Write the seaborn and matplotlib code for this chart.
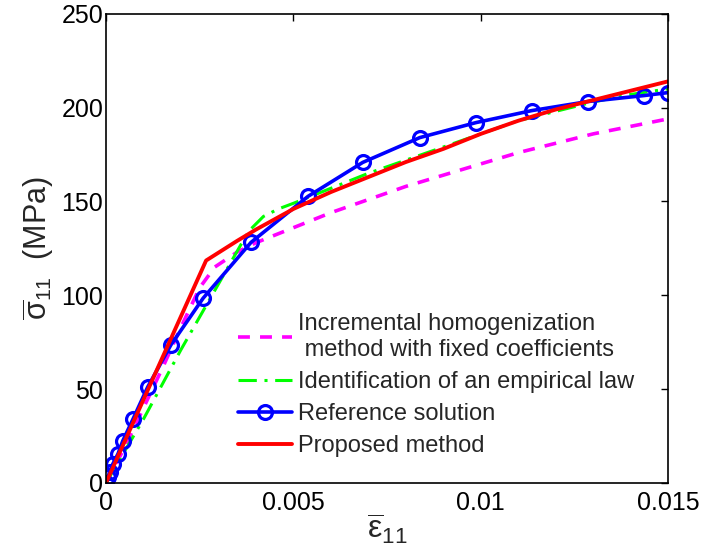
import numpy as np, pandas as pd
import matplotlib
matplotlib.use("Agg")
import matplotlib.pyplot as plt
import seaborn as sns

# ── Data ──────────────────────────────────────────────────────
eps_incr = [0, 0.0005, 0.001, 0.0015, 0.002, 0.0025, 0.0029, 0.0035, 0.004,
            0.005, 0.006, 0.007, 0.008, 0.009, 0.01, 0.011, 0.012, 0.013,
            0.014, 0.015]
sig_incr = [0, 19, 40, 61, 83, 104, 115, 123, 128,
            136, 144, 151, 158, 164, 170, 176, 181, 186, 190, 194]

eps_emp = [0, 0.001, 0.002, 0.003, 0.0038, 0.0042, 0.0046, 0.005, 0.006,
           0.007, 0.008, 0.009, 0.01, 0.011, 0.012, 0.013, 0.014, 0.015]
sig_emp = [0, 34, 71, 106, 134, 142, 146, 149, 157,
           165, 172, 179, 186, 193, 198, 203, 207, 210]

eps_ref = [0, 0.00005, 0.0001, 0.00018, 0.00032, 0.00045, 0.00072, 0.00111,
           0.00173, 0.00259, 0.00387, 0.00539, 0.00685, 0.00837, 0.00987,
           0.01136, 0.01285, 0.01435, 0.015]
sig_ref = [0, 3, 6, 10, 15.5, 22.5, 34, 51,
           73.5, 98.4, 128.2, 152.7, 170.8, 184, 192,
           198.4, 203.2, 206.4, 208]

eps_prop = [0, 0.00267, 0.0035, 0.004, 0.005, 0.006, 0.007, 0.008, 0.009,
            0.01, 0.011, 0.012, 0.013, 0.014, 0.015]
sig_prop = [0, 118.5, 129, 135, 146, 155, 163, 171, 178,
            186, 193, 199, 204, 209, 214]

labels = ["Incremental homogenization\n method with fixed coefficients",
          "Identification of an empirical law",
          "Reference solution",
          "Proposed method"]

# ── Style ─────────────────────────────────────────────────────
sns.set_style("white")
plt.rcParams["font.family"] = ["Liberation Sans", "DejaVu Sans"]
plt.rcParams["mathtext.fontset"] = "custom"
plt.rcParams["mathtext.rm"] = "Liberation Sans"
plt.rcParams["mathtext.it"] = "Liberation Sans"

fig = plt.figure(figsize=(7.02, 5.5), dpi=100)
ax = fig.add_axes([0.151, 0.122, 0.801, 0.853])

sns.lineplot(x=eps_incr, y=sig_incr, ax=ax, color="#FF00FF", lw=2.6,
             linestyle=(0, (3.3, 2.8)), sort=False, estimator=None, label=labels[0])
sns.lineplot(x=eps_emp, y=sig_emp, ax=ax, color="#00FF00", lw=2.2,
             linestyle=(0, (6, 2.5, 1, 2.5)), sort=False, estimator=None,
             label=labels[1])
sns.lineplot(x=eps_ref, y=sig_ref, ax=ax, color="#0000FF", lw=2.6,
             marker="o", markersize=10, markerfacecolor="none",
             markeredgecolor="#0000FF", markeredgewidth=2.3,
             sort=False, estimator=None, label=labels[2])
sns.lineplot(x=eps_prop, y=sig_prop, ax=ax, color="#FF0000", lw=2.8,
             sort=False, estimator=None, label=labels[3])

ax.set_xlim(0, 0.015)
ax.set_ylim(0, 250)
ax.set_xticks([0, 0.005, 0.01, 0.015])
ax.set_xticklabels(["0", "0.005", "0.01", "0.015"])
ax.set_yticks([0, 50, 100, 150, 200, 250])
ax.tick_params(direction="in", length=5, width=1, labelsize=18,
               top=True, right=True, colors="black")
ax.tick_params(axis="x", pad=6)
ax.tick_params(axis="y", pad=2)
for s in ax.spines.values():
    s.set_color("black")
    s.set_linewidth(1.2)

ax.set_xlabel(r"$\overline{\mathrm{\varepsilon}}_{11}$", fontsize=23, labelpad=-2)
ax.set_ylabel(r"$\overline{\mathrm{\sigma}}_{11}$  (MPa)", fontsize=22, labelpad=4)

leg = ax.legend(loc="upper left", bbox_to_anchor=(0.235, 0.362), frameon=False,
                fontsize=17, handlelength=2.3, handletextpad=0.22,
                labelspacing=0.42, borderaxespad=0, borderpad=0)
for t in leg.get_texts():
    t.set_linespacing(1.25)

plt.savefig("out.png", dpi=100)
plt.close()
